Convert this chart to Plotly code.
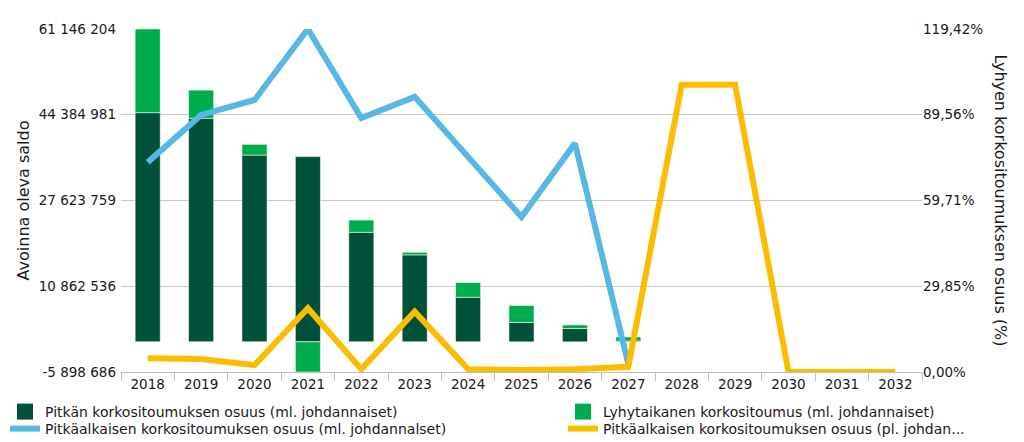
import plotly.graph_objects as go

years = ["2018", "2019", "2020", "2021", "2022", "2023", "2024", "2025", "2026", "2027",
         "2028", "2029", "2030", "2031", "2032"]
long_part = [44.8e6, 43.7e6, 36.5e6, 36.2e6, 21.4e6, 17.0e6, 8.7e6, 3.8e6, 2.6e6, 0.15e6,
             None, None, None, None, None]
short_part = [16.35e6, 5.5e6, 2.1e6, -5.9e6, 2.4e6, 0.5e6, 2.9e6, 3.3e6, 0.7e6, 0.8e6,
              None, None, None, None, None]
share_incl = [73.0, 89.5, 94.7, 119.42, 88.4, 95.8, 74.9, 54.0, 79.6, 2.8,
              None, None, None, None, None]
share_excl = [4.8, 4.5, 2.4, 22.2, 1.0, 21.0, 1.0, 0.7, 1.0, 1.8,
              100.0, 100.0, 0.0, 0.0, 0.0]

left_ticks = [-5898686, 10862536, 27623759, 44384981, 61146204]
left_labels = ["-5 898 686", "10 862 536", "27 623 759", "44 384 981", "61 146 204"]
right_ticks = [0.0, 29.85, 59.71, 89.56, 119.42]
right_labels = ["0,00%", "29,85%", "59,71%", "89,56%", "119,42%"]

names = ["Pitkän korkositoumuksen osuus (ml. johdannaiset)",
         "Lyhytaikanen korkositoumus (ml. johdannaiset)",
         "Pitkäalkaisen korkositoumuksen osuus (ml. johdannalset)",
         "Pitkäalkaisen korkositoumuksen osuus (pl. johdan..."]

FONT = "DejaVu Sans"
TXT = "#1a1a1a"
DARK = "#00503a"
LIGHT = "#00ad4e"
BLUE = "#57b9e1"
YELLOW = "#fbbd00"

fig = go.Figure()
fig.add_trace(go.Bar(x=years, y=long_part, name=names[0], marker_color=DARK,
                     marker_line=dict(color="rgba(255,255,255,0.55)", width=1), width=0.47,
                     showlegend=False))
fig.add_trace(go.Bar(x=years, y=short_part, name=names[1], marker_color=LIGHT,
                     marker_line=dict(color="rgba(255,255,255,0.55)", width=1), width=0.47,
                     showlegend=False))
fig.add_trace(go.Scatter(x=years, y=share_incl, name=names[2], yaxis="y2", mode="lines",
                         line=dict(color=BLUE, width=6), cliponaxis=False,
                         legend="legend3"))
fig.add_trace(go.Scatter(x=years, y=share_excl, name=names[3], yaxis="y2", mode="lines",
                         line=dict(color=YELLOW, width=6), cliponaxis=False,
                         legend="legend4"))
# legend swatches for the bar series
fig.add_trace(go.Scatter(x=[None], y=[None], name=names[0], mode="markers",
                         marker=dict(symbol="square", size=16, color=DARK), legend="legend"))
fig.add_trace(go.Scatter(x=[None], y=[None], name=names[1], mode="markers",
                         marker=dict(symbol="square", size=16, color=LIGHT), legend="legend2"))

leg_common = dict(orientation="v", yanchor="top", xanchor="left", tracegroupgap=0,
                  font=dict(size=14, family=FONT, color=TXT), itemwidth=30,
                  bgcolor="rgba(0,0,0,0)", traceorder="normal")
X1, X2 = -0.1448, 0.5518
Y1, Y2 = -0.070, -0.1195

fig.update_layout(
    width=1016, height=434,
    margin=dict(l=113, r=102, t=21, b=70, autoexpand=False),
    paper_bgcolor="white", plot_bgcolor="white",
    font=dict(family=FONT, size=13.5, color=TXT),
    barmode="relative",
    showlegend=True,
    legend=dict(x=X1, y=Y1, **leg_common),
    legend2=dict(x=X2, y=Y1, **leg_common),
    legend3=dict(x=X1, y=Y2, **leg_common),
    legend4=dict(x=X2, y=Y2, **leg_common),
    xaxis=dict(type="category", showgrid=False, showline=True, linecolor="#bfbfbf",
               ticks="outside", tickson="boundaries", ticklen=8, tickcolor="#bfbfbf",
               tickfont=dict(size=13.5, family=FONT), automargin=False),
    yaxis=dict(range=[-5898686, 61146204], tickvals=left_ticks, ticktext=left_labels,
               showgrid=True, gridcolor="#c8c8c8", gridwidth=1, zeroline=False,
               ticks="", automargin=False, tickfont=dict(size=13.5, family=FONT),
               ticklabelstandoff=4,
               title=dict(text="Avoinna oleva saldo", font=dict(size=16, family=FONT, color=TXT),
                          standoff=5)),
    yaxis2=dict(range=[0, 119.42], tickvals=right_ticks, ticktext=right_labels,
                overlaying="y", side="right", showgrid=False, zeroline=False,
                ticks="", automargin=False, tickfont=dict(size=13.5, family=FONT)),
)
fig.add_annotation(text="Lyhyen korkositoumuksen osuus (%)", textangle=90,
                   xref="paper", yref="paper", x=1.0, xanchor="center", xshift=78,
                   y=0.5, yanchor="middle", showarrow=False,
                   font=dict(size=16, family=FONT, color=TXT))

fig.write_html("out.html")
